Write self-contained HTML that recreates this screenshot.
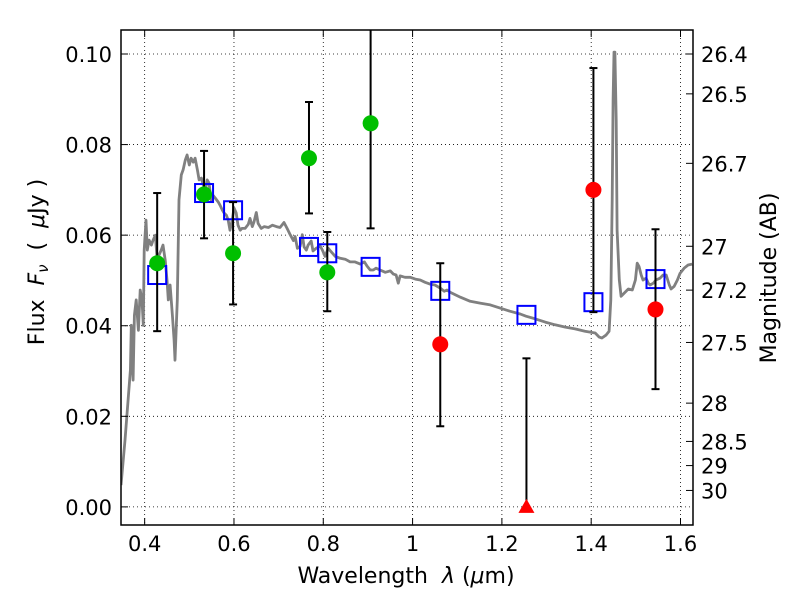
<!DOCTYPE html>
<html><head><meta charset="utf-8"><style>
html,body{margin:0;padding:0;background:#fff;}
svg{display:block;font-family:"DejaVu Sans","Liberation Sans",sans-serif;}
text{white-space:pre;}
</style></head><body>
<svg id="chart" width="800" height="600" viewBox="0 0 800 600" xmlns="http://www.w3.org/2000/svg"></svg>
<script>
// ---- data ----
const sedLambda = [0.347,0.356,0.363,0.368,0.370,0.374,0.377,0.381,0.386,0.390,0.394,0.397,0.399,0.403,0.406,0.410,0.415,0.419,0.424,0.428,0.432,0.437,0.441,0.446,0.450,0.453,0.457,0.462,0.466,0.468,0.473,0.477,0.482,0.486,0.491,0.495,0.500,0.504,0.509,0.513,0.518,0.522,0.527,0.531,0.536,0.540,0.544,0.549,0.553,0.558,0.565,0.569,0.574,0.578,0.583,0.587,0.591,0.596,0.600,0.605,0.609,0.614,0.618,0.625,0.632,0.636,0.641,0.645,0.650,0.654,0.661,0.668,0.677,0.686,0.695,0.703,0.712,0.719,0.726,0.733,0.737,0.742,0.748,0.753,0.757,0.762,0.766,0.773,0.777,0.784,0.793,0.798,0.804,0.811,0.818,0.827,0.838,0.849,0.860,0.871,0.883,0.892,0.898,0.905,0.912,0.918,0.927,0.939,0.950,0.957,0.963,0.968,0.972,0.983,0.995,1.006,1.017,1.028,1.039,1.050,1.062,1.071,1.077,1.084,1.107,1.129,1.151,1.174,1.196,1.218,1.241,1.254,1.275,1.297,1.319,1.342,1.364,1.386,1.409,1.418,1.424,1.433,1.440,1.444,1.447,1.449,1.451,1.453,1.456,1.458,1.463,1.467,1.474,1.483,1.492,1.499,1.503,1.507,1.512,1.516,1.523,1.528,1.532,1.539,1.545,1.554,1.561,1.568,1.575,1.579,1.586,1.593,1.599,1.608,1.617,1.626];
const sedFlux = [0.0048,0.0147,0.0236,0.0302,0.0401,0.0280,0.0423,0.0457,0.0390,0.0479,0.0457,0.0401,0.0567,0.0633,0.0567,0.0589,0.0578,0.0589,0.0600,0.0545,0.0556,0.0567,0.0578,0.0545,0.0501,0.0457,0.0490,0.0423,0.0368,0.0324,0.0457,0.0678,0.0733,0.0744,0.0766,0.0777,0.0755,0.0770,0.0761,0.0770,0.0744,0.0722,0.0726,0.0711,0.0700,0.0722,0.0715,0.0677,0.0688,0.0682,0.0673,0.0666,0.0655,0.0649,0.0644,0.0633,0.0611,0.0633,0.0660,0.0649,0.0622,0.0611,0.0615,0.0615,0.0624,0.0637,0.0619,0.0630,0.0650,0.0626,0.0615,0.0619,0.0617,0.0622,0.0619,0.0617,0.0628,0.0615,0.0601,0.0588,0.0597,0.0571,0.0575,0.0601,0.0574,0.0567,0.0578,0.0587,0.0565,0.0571,0.0576,0.0567,0.0553,0.0571,0.0563,0.0553,0.0549,0.0547,0.0541,0.0541,0.0536,0.0541,0.0532,0.0523,0.0523,0.0527,0.0523,0.0518,0.0521,0.0514,0.0512,0.0494,0.0510,0.0507,0.0507,0.0503,0.0501,0.0496,0.0492,0.0490,0.0483,0.0476,0.0479,0.0474,0.0463,0.0454,0.0450,0.0446,0.0439,0.0432,0.0426,0.0421,0.0415,0.0408,0.0402,0.0397,0.0393,0.0388,0.0384,0.0375,0.0373,0.0379,0.0388,0.0457,0.0678,0.0898,0.1004,0.1004,0.0854,0.0611,0.0501,0.0465,0.0472,0.0481,0.0479,0.0501,0.0538,0.0531,0.0512,0.0501,0.0505,0.0494,0.0490,0.0494,0.0501,0.0505,0.0512,0.0512,0.0490,0.0481,0.0487,0.0501,0.0516,0.0527,0.0534,0.0536];

const greenLambda = [0.428,0.533,0.598,0.768,0.809,0.906];
const greenFlux   = [0.0538,0.0690,0.0560,0.0770,0.0518,0.0847];
const greenErrHi  = [0.0693,0.0786,0.0673,0.0894,0.0607,0.1200];
const greenErrLo  = [0.0388,0.0593,0.0447,0.0648,0.0432,0.0615];

const redLambda = [1.062,1.405,1.544];
const redFlux   = [0.0359,0.0700,0.0436];
const redErrHi  = [0.0538,0.0969,0.0613];
const redErrLo  = [0.0178,0.0430,0.0260];

const limLambda = [1.255];
const limFlux   = [0.0];
const limErrHi  = [0.0328];

const modelLambda = [0.428,0.533,0.598,0.768,0.809,0.906,1.062,1.255,1.405,1.544];
const modelFlux   = [0.0512,0.0693,0.0655,0.0574,0.0560,0.0530,0.0477,0.0424,0.0452,0.0503];

const xTicks = [0.4,0.6,0.8,1.0,1.2,1.4,1.6];
const xTickLabels = ["0.4","0.6","0.8","1","1.2","1.4","1.6"];
const yTicks = [0.00,0.02,0.04,0.06,0.08,0.10];
const yTickLabels = ["0.00","0.02","0.04","0.06","0.08","0.10"];
const magTicks = [26.4,26.5,26.7,27,27.2,27.5,28,28.5,29,30];
const magTickLabels = ["26.4","26.5","26.7","27","27.2","27.5","28","28.5","29","30"];

// ---- axes ----
const L=121,R=693,T=30,B=525;
const xMin=0.347,xMax=1.628,yMin=-0.0040,yMax=0.1053;
const X=v=>L+(v-xMin)/(xMax-xMin)*(R-L);
const Y=v=>B-(v-yMin)/(yMax-yMin)*(B-T);
const NS="http://www.w3.org/2000/svg";
const svg=document.getElementById('chart');
function mk(tag,attrs,parent){const e=document.createElementNS(NS,tag);for(const k in attrs)e.setAttribute(k,attrs[k]);(parent||svg).appendChild(e);return e;}

const clip=mk('clipPath',{id:'pc'});mk('rect',{x:L,y:T,width:R-L,height:B-T},clip);

const grid=mk('g',{});


xTicks.forEach(v=>mk('line',{x1:X(v),x2:X(v),y1:T,y2:B,stroke:'#000','stroke-width':0.8,'stroke-dasharray':'1,3'},grid));
yTicks.forEach(v=>mk('line',{x1:L,x2:R,y1:Y(v),y2:Y(v),stroke:'#000','stroke-width':0.8,'stroke-dasharray':'1,3'},grid));

const plot=mk('g',{'clip-path':'url(#pc)'});
const sed=mk('path',{d:sedLambda.map((l,i)=>(i?'L':'M')+X(l).toFixed(1)+','+Y(sedFlux[i]).toFixed(1)).join(''),fill:'none',stroke:'#808080','stroke-width':2.8,'stroke-linejoin':'round'},plot);



modelLambda.forEach((l,i)=>{
  const s=mk('rect',{x:X(l)-9,y:Y(modelFlux[i])-9,width:18,height:18,fill:'none',stroke:'#0000ff','stroke-width':2},plot);
  
  
});

function errbar(l,lo,hi,name){
  const g=mk('g',{},plot);
  
  
  const x=X(l);
  mk('line',{x1:x,x2:x,y1:Y(lo),y2:Y(hi),stroke:'#000','stroke-width':2},g);
  mk('line',{x1:x-4,x2:x+4,y1:Y(lo),y2:Y(lo),stroke:'#000','stroke-width':2},g);
  mk('line',{x1:x-4,x2:x+4,y1:Y(hi),y2:Y(hi),stroke:'#000','stroke-width':2},g);
}
greenLambda.forEach((l,i)=>errbar(l,greenErrLo[i],greenErrHi[i],'green-error-bar'));
redLambda.forEach((l,i)=>errbar(l,redErrLo[i],redErrHi[i],'red-error-bar'));
limLambda.forEach((l,i)=>errbar(l,limFlux[i],limErrHi[i],'limit-error-bar'));

greenLambda.forEach((l,i)=>{
  const c=mk('circle',{cx:X(l),cy:Y(greenFlux[i]),r:8,fill:'#00bf00'},plot);
  
  
});
redLambda.forEach((l,i)=>{
  const c=mk('circle',{cx:X(l),cy:Y(redFlux[i]),r:8,fill:'#ff0000'},plot);
  
  
});
limLambda.forEach((l,i)=>{
  const x=X(l),y=Y(limFlux[i]);
  const t=mk('polygon',{points:`${x},${y-8} ${x-8},${y+6} ${x+8},${y+6}`,fill:'#ff0000'},plot);
  
  
});

const fr=mk('rect',{x:L,y:T,width:R-L,height:B-T,fill:'none',stroke:'#000','stroke-width':1.5});



const FS=21;
xTicks.forEach((v,i)=>{
  mk('line',{x1:X(v),x2:X(v),y1:B,y2:B-7,stroke:'#000','stroke-width':1});
  mk('line',{x1:X(v),x2:X(v),y1:T,y2:T+7,stroke:'#000','stroke-width':1});
  const t=mk('text',{x:X(v),y:B+26,'text-anchor':'middle','font-size':FS});
  t.textContent=xTickLabels[i];
  
  
});
yTicks.forEach((v,i)=>{
  mk('line',{x1:L,x2:L+7,y1:Y(v),y2:Y(v),stroke:'#000','stroke-width':1});
  const t=mk('text',{x:L-9,y:Y(v)+8,'text-anchor':'end','font-size':FS});
  t.textContent=yTickLabels[i];
  
  
});
magTicks.forEach((m,i)=>{
  const f=Math.pow(10,(23.9-m)/2.5);
  const y=Y(f);
  mk('line',{x1:R,x2:R-7,y1:y,y2:y,stroke:'#000','stroke-width':1});
  const t=mk('text',{x:R+8,y:y+8,'text-anchor':'start','font-size':FS});
  t.textContent=magTickLabels[i];
  
  
});

const xt=mk('text',{x:406,y:583,'text-anchor':'middle','font-size':22});
xt.innerHTML='Wavelength  <tspan font-style="italic">λ</tspan> (<tspan font-style="italic">μ</tspan>m)';


const yt=mk('text',{x:0,y:0,'text-anchor':'middle','font-size':22,transform:`translate(44,262) rotate(-90)`});
yt.innerHTML='Flux  <tspan font-style="italic">F</tspan><tspan font-style="italic" font-size="15" dy="4">ν</tspan><tspan dy="-4">  (  </tspan><tspan font-style="italic">μ</tspan>Jy )';


const rt=mk('text',{x:0,y:0,'text-anchor':'middle','font-size':22,transform:`translate(776,278) rotate(-90)`});
rt.textContent='Magnitude (AB)';


</script>
</body></html>
